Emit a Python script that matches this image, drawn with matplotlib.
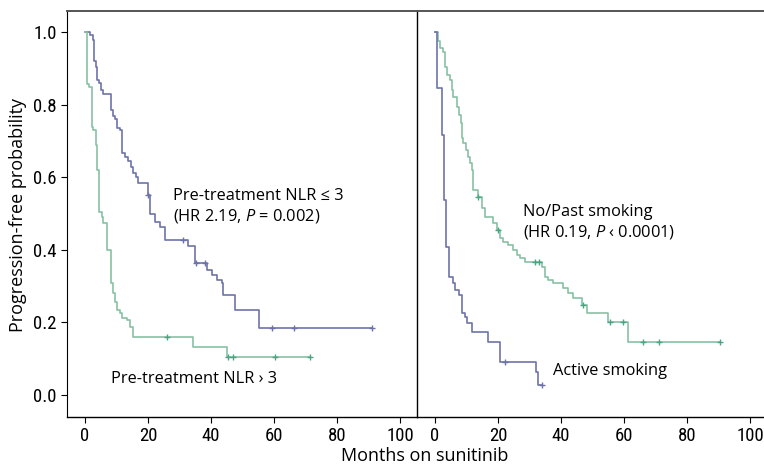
import matplotlib
matplotlib.use("Agg")
import matplotlib.pyplot as plt

# Kaplan-Meier step curves (time in months, survival after the step)
nlr_low_t = [0, 1.6, 2.4, 2.9, 3.5, 3.9, 4.5, 5.0, 5.8, 8.2, 8.8, 9.5, 10.3, 11.1, 11.6,
             12.7, 13.7, 14.5, 15.3, 16.2, 16.9, 20.0, 20.6, 22.2, 23.8, 25.4, 32.8,
             34.9, 38.6, 40.2, 41.8, 43.4, 43.9, 47.6, 55.3, 91.0]
nlr_low_s = [1.0, 0.993, 0.98, 0.92, 0.905, 0.869, 0.86, 0.84, 0.83, 0.786, 0.77, 0.76,
             0.736, 0.73, 0.667, 0.657, 0.644, 0.63, 0.613, 0.60, 0.585, 0.552, 0.50,
             0.478, 0.464, 0.428, 0.41, 0.363, 0.345, 0.331, 0.317, 0.309, 0.276, 0.234,
             0.186, 0.186]
nlr_low_cens_t = [20.0, 31.2, 35.4, 38.1, 59.3, 66.4, 91.0]
nlr_low_cens_s = [0.552, 0.428, 0.363, 0.363, 0.186, 0.186, 0.186]

nlr_high_t = [0, 0.7, 1.4, 2.1, 2.6, 3.5, 3.9, 4.6, 5.3, 5.8, 6.9, 8.2, 8.8, 9.5, 10.3,
              11.1, 11.6, 13.2, 14.3, 15.1, 34.4, 45.0, 71.4]
nlr_high_s = [1.0, 0.858, 0.85, 0.74, 0.73, 0.69, 0.62, 0.506, 0.49, 0.473, 0.40, 0.308,
              0.28, 0.257, 0.234, 0.226, 0.212, 0.207, 0.188, 0.161, 0.133, 0.104, 0.104]
nlr_high_cens_t = [25.9, 45.5, 47.0, 60.3, 71.4]
nlr_high_cens_s = [0.161, 0.104, 0.104, 0.104, 0.104]

nosmk_t = [0, 1.1, 1.6, 2.6, 3.2, 3.9, 4.8, 5.3, 5.8, 6.9, 7.7, 8.2, 8.5, 9.0, 9.8, 10.6,
           11.1, 11.6, 12.0, 13.8, 14.8, 15.9, 18.5, 19.6, 20.6, 21.7, 23.3, 24.9, 25.9,
           27.0, 28.6, 33.9, 34.9, 36.0, 37.6, 40.7, 42.3, 43.9, 46.6, 48.1, 55.0, 61.4,
           90.5]
nosmk_s = [1.0, 0.975, 0.956, 0.947, 0.905, 0.883, 0.869, 0.841, 0.823, 0.795, 0.772,
           0.75, 0.709, 0.695, 0.676, 0.657, 0.639, 0.62, 0.566, 0.547, 0.515, 0.492,
           0.473, 0.455, 0.432, 0.423, 0.414, 0.40, 0.386, 0.377, 0.368, 0.354, 0.326,
           0.317, 0.308, 0.294, 0.28, 0.267, 0.248, 0.225, 0.20, 0.147, 0.147]
nosmk_cens_t = [13.8, 20.1, 31.7, 33.0, 46.9, 55.6, 59.8, 66.0, 71.1, 90.5]
nosmk_cens_s = [0.547, 0.455, 0.368, 0.368, 0.248, 0.20, 0.20, 0.147, 0.147, 0.147]

smk_t = [0, 0.7, 2.1, 2.9, 3.5, 4.5, 5.6, 6.3, 7.7, 8.5, 9.5, 10.1, 11.6, 16.9, 20.6,
         32.1, 32.8, 33.9]
smk_s = [1.0, 0.846, 0.717, 0.538, 0.409, 0.326, 0.308, 0.29, 0.276, 0.225, 0.216,
         0.198, 0.175, 0.147, 0.092, 0.064, 0.028, 0.028]
smk_cens_t = [22.2, 33.9]
smk_cens_s = [0.092, 0.028]

x_ticks = [0, 20, 40, 60, 80, 100]
y_ticks = [0.0, 0.2, 0.4, 0.6, 0.8, 1.0]

BLUE = "#6d73a8"
GREEN = "#88c1a3"
GREEN_DARK = "#4aa585"
TICK_FONT = "Roboto Condensed"

plt.rcParams["font.family"] = ["Open Sans", "DejaVu Sans"]
plt.rcParams["mathtext.fontset"] = "custom"
plt.rcParams["mathtext.it"] = "Open Sans:italic"
plt.rcParams["mathtext.rm"] = "Open Sans"

fig = plt.figure(figsize=(7.64, 4.66), dpi=100)
ax1 = fig.add_axes([67 / 764, 49 / 466, 350 / 764, 406 / 466])
ax2 = fig.add_axes([417 / 764, 49 / 466, 347 / 764, 406 / 466])

ax1.step(nlr_low_t, nlr_low_s, where="post", color=BLUE, lw=1.2)
ax1.plot(nlr_low_cens_t, nlr_low_cens_s, "+", color=BLUE, ms=4, mew=1)
ax1.step(nlr_high_t, nlr_high_s, where="post", color=GREEN, lw=1.2)
ax1.plot(nlr_high_cens_t, nlr_high_cens_s, "+", color=GREEN_DARK, ms=4, mew=1)

ax2.step(nosmk_t, nosmk_s, where="post", color=GREEN, lw=1.2)
ax2.plot(nosmk_cens_t, nosmk_cens_s, "+", color=GREEN_DARK, ms=4, mew=1)
ax2.step(smk_t, smk_s, where="post", color=BLUE, lw=1.2)
ax2.plot(smk_cens_t, smk_cens_s, "+", color=BLUE, ms=4, mew=1)

for ax in (ax1, ax2):
    ax.set_ylim(-0.0607, 1.059)
    ax.set_xticks(x_ticks)
    ax.tick_params(axis="both", direction="out", length=4.5, width=0.8,
                   labelsize=13.5, pad=3)
    ax.spines["top"].set_color("#555555")
    ax.spines["top"].set_linewidth(1.4)
    ax.spines["bottom"].set_linewidth(1.0)

ax1.set_xlim(-5.71, 105.4)
ax2.set_xlim(-5.71, 104.44)
ax1.set_yticks(y_ticks)
ax1.set_yticklabels([f"{v:.1f}" for v in y_ticks])
ax1.spines["right"].set_visible(False)
ax2.set_yticks([])
ax2.spines["left"].set_linewidth(1.0)
ax2.spines["right"].set_visible(False)
for ax in (ax1, ax2):
    for lab in ax.get_xticklabels() + ax.get_yticklabels():
        lab.set_fontfamily(TICK_FONT)

fs = 11.8
ax1.text(28, 0.549, "Pre-treatment NLR ≤ 3", fontsize=fs, va="center")
ax1.text(28, 0.494, r"(HR 2.19, $\it{P}$ = 0.002)", fontsize=fs, va="center")
ax1.text(8.1, 0.044, "Pre-treatment NLR › 3", fontsize=fs, va="center")
ax2.text(27.9, 0.505, "No/Past smoking", fontsize=fs, va="center")
ax2.text(27.9, 0.45, r"(HR 0.19, $\it{P}$ ‹ 0.0001)", fontsize=fs, va="center")
ax2.text(37.4, 0.066, "Active smoking", fontsize=fs, va="center")

fig.text(18 / 764, 0.539, "Progression-free probability", rotation=90,
         fontsize=13, ha="center", va="center")
fig.text(425 / 764, 1 / 466, "Months on sunitinib", fontsize=13,
         ha="center", va="bottom")

fig.savefig("out.png", dpi=100)
